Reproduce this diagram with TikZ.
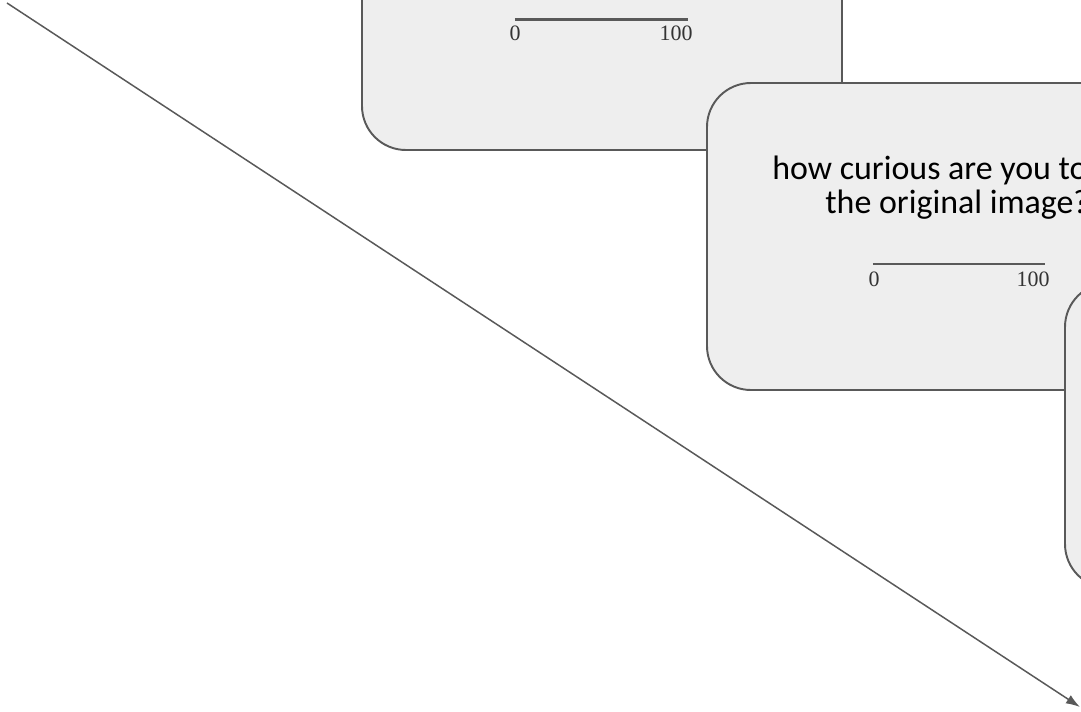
\documentclass[tikz,border=0pt]{standalone}
\usepackage{fontspec}
\setmainfont{Carlito}
\newfontfamily\numfont{Liberation Serif}
\usetikzlibrary{arrows.meta}
\definecolor{cardfill}{HTML}{EEEEEE}
\definecolor{cardline}{HTML}{595959}

\begin{document}
\begin{tikzpicture}[scale=0.2]
\tikzset{card/.style={draw=cardline,fill=cardfill,line width=1.1pt,rounded corners=25pt},
  question/.style={inner sep=0pt,anchor=base west,font=\fontsize{19.3}{23}\selectfont},
  tick/.style={inner sep=0pt,font=\numfont\fontsize{12.5}{14}\selectfont,text=black!80},
  scaleline/.style={draw=cardline,line width=1.4pt}}
\useasboundingbox (0,0) rectangle (108.1,-71.1);
\clip (0,0) rectangle (108.1,-71.1);
% long arrow
\coordinate (from) at (0.7,-0.3);
\coordinate (to) at (108.0,-70.7);
\draw [cardline,line width=0.85pt,-{Latex[length=8pt,width=5.5pt]}] (from) -- (to);
% first card (mostly cut off)
\draw [card] (36.2,15.8) rectangle (84.2,-15.0);
\coordinate (s1a) at (51.5,-1.95);
\coordinate (s1b) at (68.8,-1.95);
\draw [scaleline] (s1a) -- (s1b);
\node [tick] (lo1) at (51.5,-3.3) {0};
\node [tick] (hi1) at (67.6,-3.3) {100};
% second card
\draw [card] (70.7,-8.3) rectangle (120.0,-39.0);
\node [question] (q2a) at (77.2,-17.9) {how curious are you to};
\node [question] (q2b) at (82.5,-21.3) {the original image?};
\coordinate (s2a) at (87.3,-26.4);
\coordinate (s2b) at (104.5,-26.4);
\draw [scaleline] (s2a) -- (s2b);
\node [tick] (lo2) at (87.4,-27.9) {0};
\node [tick] (hi2) at (103.3,-27.9) {100};
% third card
\draw [card] (106.5,-28.3) rectangle (155.0,-58.8);
\end{tikzpicture}
\end{document}
